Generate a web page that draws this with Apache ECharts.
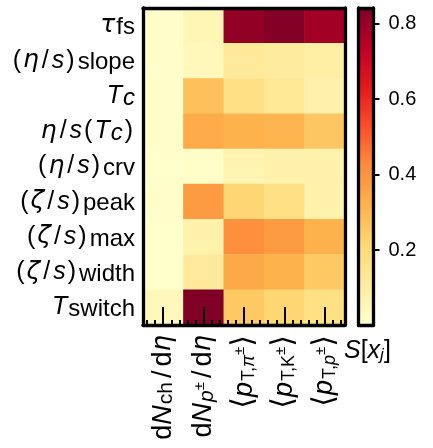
<!DOCTYPE html>
<html><head><meta charset="utf-8">
<script src="https://cdn.jsdelivr.net/npm/echarts@6/dist/echarts.min.js"></script>
<style>html,body{margin:0;padding:0;background:#fff}#c{width:433px;height:448px}</style>
</head><body><div id="c"></div>
<script>
// ---- data ----
// rows = model parameters (top to bottom), columns = observables (left to right)
const parameterLabels = [
  '{g|τ}{s|fs}',
  '{p|(}{g|η}{sl|/}{mi|s}{p|)}{s|slope}',
  '{mi|T}{si|c}',
  '{g|η}{sl|/}{mi|s}{p|(}{mi|T}{si|c}{p|)}',
  '{p|(}{g|η}{sl|/}{mi|s}{p|)}{s|crv}',
  '{p|(}{g|ζ}{sl|/}{mi|s}{p|)}{s|peak}',
  '{p|(}{g|ζ}{sl|/}{mi|s}{p|)}{s|max}',
  '{p|(}{g|ζ}{sl|/}{mi|s}{p|)}{s|width}',
  '{mi|T}{s|switch}'
];
const observableLabels = [
  '{n|d}{mi|N}{s|ch}{sl|/}{n|d}{g|η}',
  '{n|d}{mi|N}{si|p}{sp|±}{sl|/}{n|d}{g|η}',
  '{b|⟨}{mi|p}{t|T,}{ti|π}{sp|±}{b|⟩}',
  '{b|⟨}{mi|p}{t|T,K}{sp|±}{b|⟩}',
  '{b|⟨}{mi|p}{t|T,}{ti|p}{sp|±}{b|⟩}'
];
const tauFs      = [0.006, 0.060, 0.810, 0.835, 0.780];
const etaSlope   = [0.005, 0.045, 0.120, 0.115, 0.095];
const Tc         = [0.005, 0.280, 0.175, 0.133, 0.078];
const etaTc      = [0.005, 0.337, 0.317, 0.308, 0.262];
const etaCrv     = [0.004, 0.010, 0.065, 0.075, 0.075];
const zetaPeak   = [0.005, 0.382, 0.220, 0.175, 0.075];
const zetaMax    = [0.004, 0.078, 0.415, 0.382, 0.317];
const zetaWidth  = [0.004, 0.120, 0.342, 0.317, 0.258];
const Tswitch    = [0.045, 0.841, 0.258, 0.216, 0.175];
const sensitivityRows = [tauFs, etaSlope, Tc, etaTc, etaCrv, zetaPeak, zetaMax, zetaWidth, Tswitch];
const colorbarTicks = [0.2, 0.4, 0.6, 0.8];
const colorMin = 0.002, colorMax = 0.841;
const colorbarTitle = '{i|S}{n|[}{i|x}{si|j}{n|]}';
const ylOrRd = ['#ffffcc','#ffeda0','#fed976','#feb24c','#fd8d3c','#fc4e2a','#e31a1c','#bd0026','#800026'];

// ---- build ----
const heatData = [];
sensitivityRows.forEach((row, r) => row.forEach((v, c) => heatData.push([c, r, v])));

const FONT = 'Liberation Sans, Arial, sans-serif';
const tok = (size, lh, extra) => Object.assign({fontFamily: FONT, fontSize: size, lineHeight: lh, fontWeight: 'normal', verticalAlign: 'middle', color: '#000'}, extra || {});
const yRich = {
  n:  tok(25, 28),
  p:  tok(25, 28, {padding: [0, 2, 0, 2]}),
  sl: tok(25, 28, {padding: [0, 3, 0, 3]}),
  mi: tok(25, 28, {fontStyle: 'italic'}),
  g:  tok(25, 28, {fontStyle: 'italic', fontFamily: 'DejaVu Sans'}),
  s:  tok(24, 24, {padding: [14, 0, 0, 1], verticalAlign: 'bottom'}),
  si: tok(24, 24, {padding: [14, 0, 0, 1], verticalAlign: 'bottom', fontStyle: 'italic'})
};
const xRich = {
  n:  tok(27, 28),
  sl: tok(27, 28, {padding: [0, 4, 0, 4]}),
  b:  tok(30, 28, {fontFamily: 'DejaVu Sans'}),
  mi: tok(27, 28, {fontStyle: 'italic'}),
  g:  tok(26, 28, {fontStyle: 'italic', fontFamily: 'DejaVu Sans'}),
  s:  tok(21, 21, {padding: [14, 0, 0, 1], verticalAlign: 'bottom'}),
  si: tok(21, 21, {padding: [14, 0, 0, 1], verticalAlign: 'bottom', fontStyle: 'italic'}),
  t:  tok(18, 18, {padding: [14, 0, 0, 1], verticalAlign: 'bottom'}),
  ti: tok(18, 18, {padding: [14, 0, 0, 0], verticalAlign: 'bottom', fontStyle: 'italic'}),
  sp: tok(15, 15, {padding: [0, 0, 8, 0]})
};
const frameLine = {show: true, onZero: false, lineStyle: {color: '#000', width: 3.3}};
const minorTicks = [];
for (let c = 0; c < observableLabels.length; c++) [-0.4, -0.2, 0.2, 0.4].forEach(d => minorTicks.push(c + d));
const majorTicks = observableLabels.map((_, i) => i);
const lineOnly = (extra) => Object.assign({splitLine: {show: false}, axisLabel: {show: false}, axisTick: {show: false}, axisLine: frameLine, z: 10}, extra);

const chart = echarts.init(document.getElementById('c'), null, {renderer: 'canvas'});
chart.setOption({
  animation: false,
  backgroundColor: '#fff',
  grid: [
    {left: 143, top: 8, width: 202, height: 317},
    {left: 358.5, top: 8, width: 15, height: 317}
  ],
  xAxis: [
    {type: 'category', gridIndex: 0, data: observableLabels, position: 'bottom',
     axisLine: {show: false, onZero: false}, axisTick: {show: false}, splitLine: {show: false},
     axisLabel: {rotate: 90, margin: 10, interval: 0, rich: xRich, formatter: v => v}},
    lineOnly({type: 'value', gridIndex: 0, min: -0.5, max: 4.5, position: 'bottom',
     axisTick: {show: true, inside: true, length: 18, customValues: majorTicks, lineStyle: {color: '#000', width: 2}}}),
    lineOnly({type: 'value', gridIndex: 0, min: -0.5, max: 4.5, position: 'bottom', axisLine: {show: false, onZero: false},
     axisTick: {show: true, inside: true, length: 5, customValues: minorTicks, lineStyle: {color: '#000', width: 2}}}),
    lineOnly({type: 'value', gridIndex: 0, min: 0, max: 1, position: 'top'}),
    lineOnly({type: 'value', gridIndex: 1, min: 0, max: 1, position: 'bottom'}),
    lineOnly({type: 'value', gridIndex: 1, min: 0, max: 1, position: 'top'})
  ],
  yAxis: [
    {type: 'category', gridIndex: 0, data: parameterLabels, inverse: true, position: 'left', z: 10,
     axisLine: frameLine, axisTick: {show: false}, splitLine: {show: false},
     axisLabel: {margin: 8, interval: 0, align: 'right', rich: yRich, formatter: v => v}},
    lineOnly({type: 'value', gridIndex: 0, min: 0, max: 1, position: 'right'}),
    {type: 'value', gridIndex: 1, min: colorMin, max: colorMax, position: 'right', z: 10,
     axisLine: frameLine, splitLine: {show: false},
     axisTick: {show: true, length: 6, customValues: colorbarTicks, lineStyle: {color: '#000', width: 2}},
     axisLabel: {show: true, margin: 15, customValues: colorbarTicks, fontFamily: FONT, fontSize: 20, color: '#000',
                 formatter: v => v.toFixed(1)}},
    lineOnly({type: 'value', gridIndex: 1, min: 0, max: 1, position: 'left'})
  ],
  visualMap: {
    type: 'continuous', min: colorMin, max: colorMax, seriesIndex: 0,
    left: 358.5, top: 8, itemWidth: 15, itemHeight: 317, padding: 0, z: 1,
    calculable: false, showLabel: false, text: null, realtime: false,
    inRange: {color: ylOrRd}
  },
  title: {text: colorbarTitle, left: 344, top: 338, padding: 0,
    textStyle: {fontWeight: 'normal', rich: {
      i:  tok(25, 26, {fontStyle: 'italic'}),
      n:  tok(25, 26),
      si: tok(17, 17, {padding: [14, 0, 0, 0], verticalAlign: 'bottom', fontStyle: 'italic'})
    }}},
  series: [{
    type: 'heatmap', xAxisIndex: 0, yAxisIndex: 0, data: heatData,
    itemStyle: {borderWidth: 0}, emphasis: {disabled: true}
  }]
});
</script></body></html>
